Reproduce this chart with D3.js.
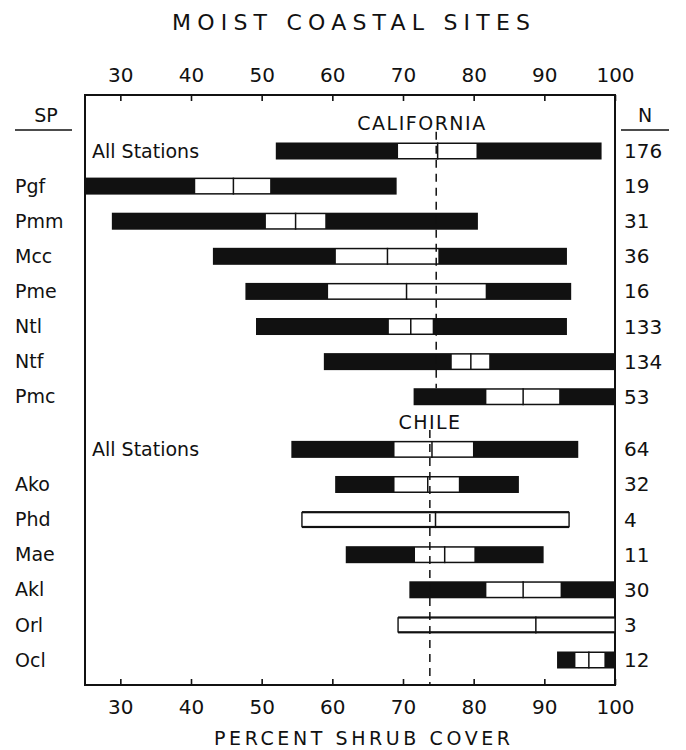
<!DOCTYPE html>
<html>
<head>
  <meta charset="UTF-8">
  <title>Moist coastal sites</title>
  <style>
    body { margin: 0; background: #fff; }
    text { font-family: "DejaVu Sans", sans-serif; fill: #111; }
  </style>
</head>
<body>
<svg id="chart" width="686" height="750"></svg>
<script src="https://d3js.org/d3.v7.min.js"></script>
<script>

// species codes, group, sample size
var species = ["All Stations", "Pgf", "Pmm", "Mcc", "Pme", "Ntl", "Ntf", "Pmc",
               "All Stations", "Ako", "Phd", "Mae", "Akl", "Orl", "Ocl"];
var groups  = ["California", "California", "California", "California", "California", "California", "California", "California",
               "Chile", "Chile", "Chile", "Chile", "Chile", "Chile", "Chile"];
var nValues = [176, 19, 31, 36, 16, 133, 134, 53, 64, 32, 4, 11, 30, 3, 12];

// percent shrub cover: range (black), box (white), median line
var rangeMin = [52.0, 25.0, 28.8, 43.1, 47.7, 49.2, 58.8, 71.5, 54.2, 60.4, 55.7, 61.9, 70.9, 69.3, 91.8];
var boxLow   = [69.3, 40.6, 50.6, 60.5, 59.4, 68.0, 76.9, 81.8, 68.8, 68.8, 55.7, 71.7, 81.8, 69.3, 94.4];
var median   = [74.9, 46.0, 54.8, 67.8, 70.5, 71.1, 79.6, 87.0, 74.1, 73.5, 74.6, 75.9, 87.0, 88.8, 96.3];
var boxHigh  = [80.4, 51.2, 59.0, 75.0, 81.7, 74.2, 82.2, 92.1, 79.9, 77.9, 93.5, 80.1, 92.3, 100, 98.5];
var rangeMax = [98.1, 69.1, 80.6, 93.2, 93.8, 93.2, 100, 100, 94.8, 86.4, 93.5, 89.9, 100, 100, 100];

// overall means (dashed lines)
var groupMeans = [74.7, 73.8];
var groupNames = ["CALIFORNIA", "CHILE"];

var xTicks = [30, 40, 50, 60, 70, 80, 90, 100];

var svg = d3.select("#chart");
var mLeft = 85, mRight = 615, mTop = 95, mBottom = 685;

var x = d3.scaleLinear().domain([25, 100]).range([mLeft, mRight]);

var rows = species.map(function(s, i) {
  return {
    name: s, group: groups[i], n: nValues[i],
    min: rangeMin[i], lo: boxLow[i], med: median[i], hi: boxHigh[i], max: rangeMax[i],
    pos: i + (groups[i] === "Chile" ? 0.5 : 0)
  };
});

var y = d3.scaleLinear().domain([0, 14.5]).range([151, 660]);
var barH = 17;

// title
svg.append("text")
  .attr("x", 351).attr("y", 22).attr("dy", "0.35em")
  .attr("text-anchor", "middle")
  .attr("font-size", 22)
  .attr("textLength", 358).attr("lengthAdjust", "spacing")
  .text("MOIST COASTAL SITES");

// frame
svg.append("rect")
  .attr("x", mLeft).attr("y", mTop)
  .attr("width", mRight - mLeft).attr("height", mBottom - mTop)
  .attr("fill", "none").attr("stroke", "#111").attr("stroke-width", 2);

// axes, ticks pointing inward
var topAxis = d3.axisTop(x).tickValues(xTicks).tickSizeInner(-6).tickSizeOuter(0);
var botAxis = d3.axisBottom(x).tickValues(xTicks).tickSizeInner(-6).tickSizeOuter(0);

var gTop = svg.append("g").attr("transform", "translate(0," + mTop + ")").call(topAxis);
var gBot = svg.append("g").attr("transform", "translate(0," + mBottom + ")").call(botAxis);
[gTop, gBot].forEach(function(g) {
  g.select(".domain").remove();
  g.selectAll(".tick line").attr("stroke", "#111").attr("stroke-width", 1.6);
  g.selectAll(".tick text")
    .attr("font-size", 20)
    .attr("font-family", "DejaVu Sans, sans-serif")
    .attr("fill", "#111");
});
gTop.selectAll(".tick text").attr("y", -20).attr("dy", "0.35em");
gBot.selectAll(".tick text").attr("y", 22).attr("dy", "0.35em");

svg.append("text")
  .attr("x", 362).attr("y", 738).attr("dy", "0.35em")
  .attr("text-anchor", "middle")
  .attr("font-size", 19)
  .attr("textLength", 296).attr("lengthAdjust", "spacing")
  .text("PERCENT SHRUB COVER");

// column headers
svg.append("text").attr("x", 46).attr("y", 115).attr("dy", "0.35em")
  .attr("text-anchor", "middle").attr("font-size", 19).text("SP");
svg.append("line").attr("x1", 15).attr("x2", 72).attr("y1", 130).attr("y2", 130)
  .attr("stroke", "#111").attr("stroke-width", 1.6);
svg.append("text").attr("x", 645).attr("y", 115).attr("dy", "0.35em")
  .attr("text-anchor", "middle").attr("font-size", 19).text("N");
svg.append("line").attr("x1", 621).attr("x2", 669).attr("y1", 130).attr("y2", 130)
  .attr("stroke", "#111").attr("stroke-width", 1.6);

// group labels
svg.append("text").attr("x", 422).attr("y", y(-0.8)).attr("dy", "0.35em")
  .attr("text-anchor", "middle").attr("font-size", 19)
  .attr("letter-spacing", 1.5).text(groupNames[0]);
svg.append("text").attr("x", 430).attr("y", y(7.72)).attr("dy", "0.35em")
  .attr("text-anchor", "middle").attr("font-size", 19)
  .attr("letter-spacing", 1.5).text(groupNames[1]);

var g = svg.append("g");

// black range bars
g.selectAll("rect.range")
  .data(rows)
  .enter().append("rect")
  .attr("class", "range")
  .attr("x", function(d) { return x(d.min); })
  .attr("y", function(d) { return y(d.pos) - barH / 2; })
  .attr("width", function(d) { return x(d.max) - x(d.min); })
  .attr("height", barH)
  .attr("fill", "#111");

// white boxes
g.selectAll("rect.box")
  .data(rows)
  .enter().append("rect")
  .attr("class", "box")
  .attr("x", function(d) { return x(d.lo); })
  .attr("y", function(d) { return y(d.pos) - barH / 2 + 1.5; })
  .attr("width", function(d) { return x(d.hi) - x(d.lo); })
  .attr("height", barH - 3)
  .attr("fill", "#fff")
  .attr("stroke", function(d) { return d.min === d.lo ? "#111" : "none"; })
  .attr("stroke-width", 1.4);

// medians
g.selectAll("line.med")
  .data(rows)
  .enter().append("line")
  .attr("class", "med")
  .attr("x1", function(d) { return x(d.med); })
  .attr("x2", function(d) { return x(d.med); })
  .attr("y1", function(d) { return y(d.pos) - barH / 2; })
  .attr("y2", function(d) { return y(d.pos) + barH / 2; })
  .attr("stroke", "#111").attr("stroke-width", 1.5);

// dashed mean lines
svg.append("line")
  .attr("x1", x(groupMeans[0])).attr("x2", x(groupMeans[0]))
  .attr("y1", y(-0.55)).attr("y2", y(7) - barH / 2)
  .attr("stroke", "#111").attr("stroke-width", 1.5).attr("stroke-dasharray", "8,6");
svg.append("line")
  .attr("x1", x(groupMeans[1])).attr("x2", x(groupMeans[1]))
  .attr("y1", y(7.95)).attr("y2", mBottom)
  .attr("stroke", "#111").attr("stroke-width", 1.5).attr("stroke-dasharray", "8,6");

// row labels
svg.selectAll("text.sp")
  .data(rows)
  .enter().append("text")
  .attr("class", "sp")
  .attr("x", function(d) { return d.name === "All Stations" ? 92 : 15; })
  .attr("y", function(d) { return y(d.pos); })
  .attr("dy", "0.35em")
  .attr("font-size", 19)
  .text(function(d) { return d.name; });

svg.selectAll("text.n")
  .data(rows)
  .enter().append("text")
  .attr("class", "n")
  .attr("x", 624)
  .attr("y", function(d) { return y(d.pos); })
  .attr("dy", "0.35em")
  .attr("font-size", 20)
  .text(function(d) { return d.n; });

</script>
</body>
</html>
